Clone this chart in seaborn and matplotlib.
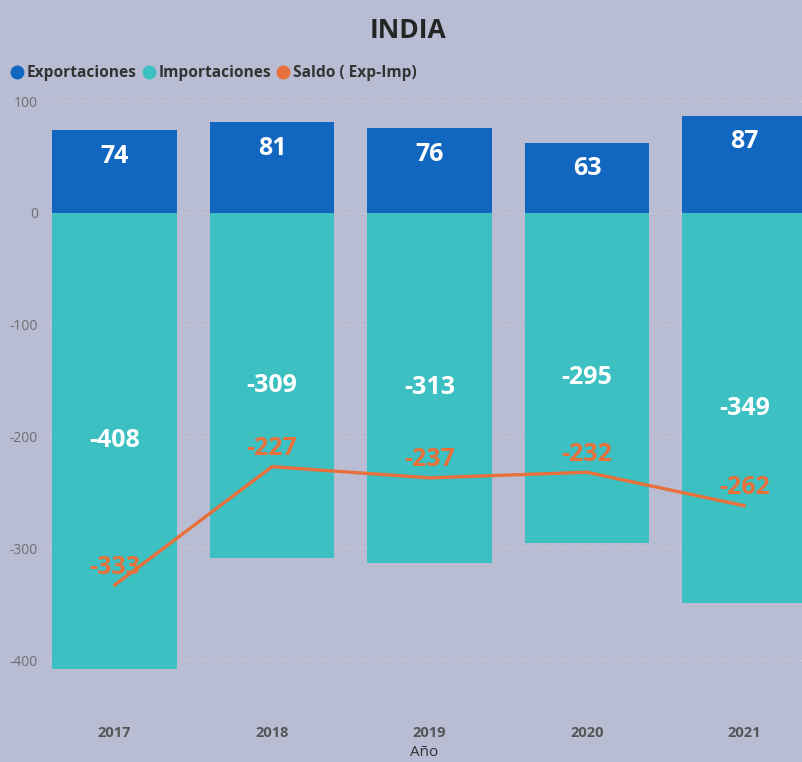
import matplotlib
matplotlib.use("Agg")
import matplotlib.pyplot as plt
import seaborn as sns
import pandas as pd
from matplotlib.lines import Line2D

years = ["2017", "2018", "2019", "2020", "2021"]
exportaciones = [74, 81, 76, 63, 87]
importaciones = [-408, -309, -313, -295, -349]
saldo = [-333, -227, -237, -232, -262]
y_ticks = [100, 0, -100, -200, -300, -400]

BG = "#B9BDD4"
C_EXP = "#1166BF"
C_IMP = "#3DC0C2"
C_SAL = "#E8703A"

sns.set_theme(style="white")
plt.rcParams["font.family"] = ["Open Sans", "DejaVu Sans"]

df = pd.DataFrame({"Año": years, "Exportaciones": exportaciones,
                   "Importaciones": importaciones, "Saldo": saldo})

fig = plt.figure(figsize=(8.03, 7.62), dpi=100)
fig.patch.set_facecolor(BG)
ax = fig.add_axes([45/803, 1 - 700/762, 1 - 45/803, (700 - 95)/762])
ax.set_facecolor(BG)

# gridlines
for t in y_ticks:
    ax.axhline(t, color="#D0D2DC", lw=0.9, ls=(0, (1, 3)), zorder=0)

sns.barplot(data=df, x="Año", y="Exportaciones", order=years, color=C_EXP,
            width=0.79, saturation=1, ax=ax, zorder=2, linewidth=0,
            edgecolor="none")
sns.barplot(data=df, x="Año", y="Importaciones", order=years, color=C_IMP,
            width=0.79, saturation=1, ax=ax, zorder=2, linewidth=0,
            edgecolor="none")
sns.lineplot(x=list(range(len(years))), y=saldo, color=C_SAL, lw=2.4, ax=ax,
             zorder=4)

ypx = 1.1175  # pixels per unit (approx)
for i, (e, im, s) in enumerate(zip(exportaciones, importaciones, saldo)):
    ax.annotate(f"{e}", (i, e), xytext=(0, -26 * 0.72), textcoords="offset points",
                ha="center", va="center", color="white", fontsize=18,
                fontweight="bold", zorder=5)
    ax.text(i, im / 2, f"{im}", ha="center", va="center", color="white",
            fontsize=18, fontweight="bold", zorder=5)
    ax.annotate(f"{s}", (i, s), xytext=(0, 18 * 0.72), textcoords="offset points",
                ha="center", va="center", color=C_SAL, fontsize=18,
                fontweight="bold", zorder=6)

ax.set_xlim((45 - 114.5) / 157.5, (803 - 114.5) / 157.5)
ax.set_ylim(-(700 - 213) / ypx, (213 - 95) / ypx)
ax.set_yticks(y_ticks)
ax.set_yticklabels([str(t) for t in y_ticks])
ax.tick_params(axis="y", length=0, pad=5, labelsize=10, labelcolor="#6E6E6E")
ax.tick_params(axis="x", length=0, pad=19, labelsize=10.5, labelcolor="#555555")
for lbl in ax.get_xticklabels():
    lbl.set_fontweight("bold")
ax.set_xlabel("Año", fontsize=11, color="#333333", labelpad=3)
ax.set_ylabel("")
for sp in ax.spines.values():
    sp.set_visible(False)

fig.text(408 / 803, 1 - 30 / 762, "INDIA", ha="center", va="center",
         fontsize=19, fontweight="bold", color="#252525")

handles = [Line2D([], [], marker="o", ls="", color=c, markersize=9)
           for c in (C_EXP, C_IMP, C_SAL)]
leg = fig.legend(handles, ["Exportaciones", "Importaciones", "Saldo ( Exp-Imp)"],
                 loc="center left", bbox_to_anchor=(0.0, 1 - 73 / 762), ncol=3,
                 frameon=False, handletextpad=0.1, columnspacing=0.3,
                 handlelength=1.0, borderaxespad=0.2,
                 prop={"size": 11.2, "weight": "bold"})
for t in leg.get_texts():
    t.set_color("#333333")

fig.savefig("out.png", dpi=100, facecolor=BG)
